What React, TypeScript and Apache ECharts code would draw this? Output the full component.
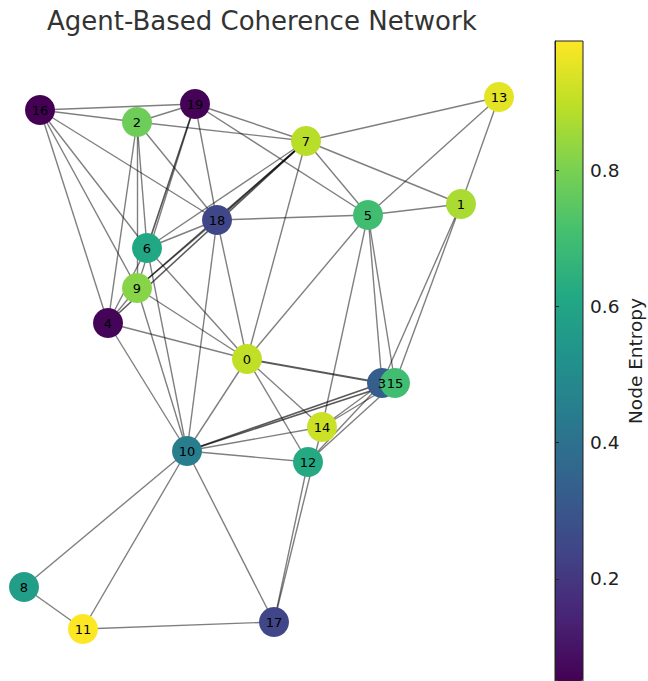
import React, { useEffect, useRef } from "react";
import * as echarts from "echarts";

// Node layout positions (layout units, y grows downward)
const nodeNames = ["0","1","2","3","4","5","6","7","8","9","10","11","12","13","14","15","16","17","18","19"];
const posX = [247, 461, 137, 382, 108, 368, 147, 306, 24, 137, 187, 83, 308, 499, 322, 395, 40, 274, 217, 195];
const posY = [359, 204, 122, 383, 323, 215, 248, 141, 587, 288, 451, 629, 462, 97, 427, 383, 110, 622, 220, 104];
// Node entropy values
const entropy = [0.9, 0.87, 0.78, 0.33, 0.06, 0.7, 0.61, 0.89, 0.57, 0.82, 0.45, 0.99, 0.62, 0.95, 0.915, 0.7, 0.05, 0.245, 0.25, 0.055];

// Edges: source, target, weight
const edgeSrc = [16,16,16,16,16,16, 2,2,2,2,2,2, 19,19,19,19,19, 7,7,7,7,7,7,7,7, 18,18,18,18,18, 5,5,5,5,5,5, 1,1,1, 0,0,0,0,0,0,0, 10,10,10,10,10,10,10,10,10,10, 12,14,12,12,3,15, 11,11, 4,4];
const edgeDst = [19,2,18,6,9,4, 19,7,18,6,9,4, 7,5,18,6,9, 13,1,5,0,18,6,9,4, 5,0,10,6,9, 1,13,0,3,15,14, 13,3,15, 6,9,4,3,14,12,10, 6,9,4,3,15,14,12,8,11,17, 17,17,3,15,14,14, 8,17, 9,6];
const edgeW = [1,1,1,1,1,1, 1,1,1,1,1,1, 1,1,1,1.2,1, 1,1,1,1,1.2,1,1.1,1.1, 1,1,1,1,1, 1,1,1,1,1,1, 1,1,1, 1,1,1,1.4,1,1,1, 1,1,1,1.1,1.1,1,1,1,1,1, 1,1,1,1,1,1, 1,1, 1,1];

const tickValues = [0.2, 0.4, 0.6, 0.8];
const viridis = ["#440154","#482475","#414487","#355f8d","#2a788e","#21918c","#22a884","#44bf70","#7ad151","#bddf26","#fde725"];

export default function App() {
  const ref = useRef<HTMLDivElement>(null);
  useEffect(() => {
    if (!ref.current) return;
    const chart = echarts.init(ref.current, null, { renderer: "svg" });
    const vMin = Math.min(...entropy);
    const vMax = Math.max(...entropy);
    const nodes = nodeNames.map((n, i) => ({ name: n, value: [posX[i], posY[i], entropy[i]] }));
    const edges = edgeSrc.map((s, i) => ({
      coords: [[posX[s], posY[s]], [posX[edgeDst[i]], posY[edgeDst[i]]]],
      lineStyle: { width: 1.4 * edgeW[i], opacity: edgeW[i] > 1 ? 0.65 : 0.5 },
    }));
    const cbLeft = 555, cbTop = 41, cbW = 28, cbH = 640;
    chart.setOption({
      animation: false,
      backgroundColor: "#ffffff",
      title: {
        text: "Agent-Based Coherence Network",
        left: 42,
        top: 3,
        textStyle: { fontFamily: "DejaVu Sans", fontSize: 26, fontWeight: "normal", color: "#333333" },
      },
      grid: [
        { left: 0, top: 0, width: 648, height: 681, show: false, containLabel: false, outerBoundsMode: "none" },
        { left: cbLeft, top: cbTop, width: cbW, height: cbH, show: true, borderColor: "#222", borderWidth: 1, backgroundColor: "transparent", z: 10, containLabel: false, outerBoundsMode: "none" },
      ],
      xAxis: [
        { type: "value", gridIndex: 0, min: 0, max: 648, show: false },
        { type: "value", gridIndex: 1, min: 0, max: 1, show: false },
      ],
      yAxis: [
        { type: "value", gridIndex: 0, min: 0, max: 681, inverse: true, show: false },
        {
          type: "value", gridIndex: 1, min: vMin, max: vMax, position: "right", z: 10,
          axisLine: { show: true, lineStyle: { color: "#222", width: 1 } },
          axisTick: { show: true, length: 4, lineStyle: { color: "#222" }, customValues: tickValues },
          axisLabel: { customValues: tickValues, margin: 7, fontFamily: "DejaVu Sans", fontSize: 18.5, color: "#222", formatter: (v: number) => v.toFixed(1) },
          splitLine: { show: false },
          name: "Node Entropy",
          nameLocation: "middle",
          nameRotate: 90,
          nameGap: 43,
          nameTextStyle: { fontFamily: "DejaVu Sans", fontSize: 18.5, color: "#222" },
        },
      ],
      visualMap: {
        type: "continuous",
        min: vMin,
        max: vMax,
        dimension: 2,
        seriesIndex: 1,
        calculable: false,
        hoverLink: false,
        left: cbLeft,
        top: cbTop,
        padding: 0,
        itemWidth: cbW,
        itemHeight: cbH,
        inRange: { color: viridis },
      },
      series: [
        {
          type: "lines",
          coordinateSystem: "cartesian2d",
          xAxisIndex: 0,
          yAxisIndex: 0,
          silent: true,
          z: 2,
          lineStyle: { color: "#000000", width: 1.4, opacity: 0.5 },
          data: edges,
        },
        {
          type: "scatter",
          xAxisIndex: 0,
          yAxisIndex: 0,
          symbolSize: 30,
          z: 3,
          itemStyle: { opacity: 1 },
          label: {
            show: true,
            position: "inside",
            formatter: (p: any) => p.name,
            fontFamily: "DejaVu Sans",
            fontSize: 13,
            color: "#000000",
          },
          data: nodes,
        },
      ],
    });
    return () => chart.dispose();
  }, []);
  return <div ref={ref} style={{ width: 648, height: 681, position: "absolute", left: 0, top: 0 }} />;
}
